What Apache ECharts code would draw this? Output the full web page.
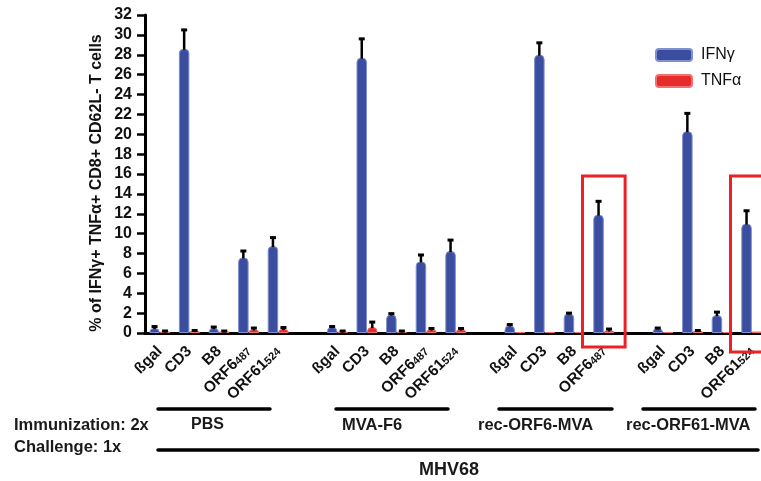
<!DOCTYPE html>
<html>
<head>
<meta charset="utf-8">
<script src="https://cdn.jsdelivr.net/npm/echarts@6/dist/echarts.min.js"></script>
<style>
html,body{margin:0;padding:0;background:#fff;}
#chart{width:761px;height:481px;}
</style>
</head>
<body>
<div id="chart"></div>
<script>
// ---- data ----
const categories = ['PBS-ßgal','PBS-CD3','PBS-B8','PBS-ORF6','PBS-ORF61','gap1',
  'MVA-ßgal','MVA-CD3','MVA-B8','MVA-ORF6','MVA-ORF61','gap2',
  'r6-ßgal','r6-CD3','r6-B8','r6-ORF6','gap3',
  'r61-ßgal','r61-CD3','r61-B8','r61-ORF61'];
const tickLabels = ['ßgal','CD3','B8','{n|ORF6}{s|487}','{n|ORF61}{s|524}','',
  'ßgal','CD3','B8','{n|ORF6}{s|487}','{n|ORF61}{s|524}','',
  'ßgal','CD3','B8','{n|ORF6}{s|487}','',
  'ßgal','CD3','B8','{n|ORF61}{s|524}'];
const ifnValues = [0.5, 28.6, 0.5, 7.6, 8.75, null, 0.6, 27.7, 1.85, 7.2, 8.25, null, 0.75, 28.0, 1.95, 11.9, null, 0.45, 20.3, 1.8, 11.0];
const ifnErrors = [0.15, 1.9, 0.1, 0.65, 0.85, null, 0.05, 1.9, 0.1, 0.65, 1.1, null, 0.1, 1.2, 0.05, 1.35, null, 0.05, 1.8, 0.3, 1.3];
const tnfValues = [0.15, 0.2, 0.15, 0.35, 0.4, null, 0.15, 0.6, 0.15, 0.35, 0.35, null, 0.1, 0.1, 0.1, 0.25, null, 0.1, 0.2, 0.1, 0.15];
const tnfErrors = [0.05, 0.05, 0.05, 0.15, 0.15, null, 0.05, 0.5, 0.05, 0.1, 0.1, null, 0, 0, 0, 0.15, null, 0, 0.05, 0, 0];
const seriesNames = ['IFNγ', 'TNFα'];
const yTicks = {min: 0, max: 32, interval: 2};
const yTitle = '% of IFNγ+ TNFα+ CD8+ CD62L- T cells';
const highlighted = [15, 20]; // categories framed in red

// ---- chart ----
const FONT = 'Arial, "Liberation Sans", Helvetica, sans-serif';
const BAR_W = 10.5;
const chart = echarts.init(document.getElementById('chart'), null, {renderer: 'canvas'});

function errData(vals, errs, side) {
  const out = [];
  vals.forEach((v, i) => { if (v != null && errs[i]) out.push([i, v, errs[i], side]); });
  return out;
}
function renderErr(params, api) {
  const idx = api.value(0), v = api.value(1), e = api.value(2), side = api.value(3);
  const b = api.coord([idx, v]);
  const t = api.coord([idx, v + e]);
  const x = b[0] + side * BAR_W / 2;
  const st = {stroke: '#000', lineWidth: 2.5};
  return {type: 'group', children: [
    {type: 'line', shape: {x1: x, y1: b[1] + 1, x2: x, y2: t[1]}, style: st},
    {type: 'line', shape: {x1: x - 3, y1: t[1], x2: x + 3, y2: t[1]}, style: {stroke: '#000', lineWidth: 3}}
  ]};
}

const blue = '#3a4d9f', red = '#e62b2b';
const option = {
  animation: false,
  grid: {left: 145, top: 15, width: 29.6 * 21, height: 318, containLabel: false, outerBoundsMode: 'none'},
  legend: {
    orient: 'vertical', left: 650, top: 42, itemWidth: 36, itemHeight: 12, itemGap: 10,
    icon: 'roundRect',
    textStyle: {fontFamily: FONT, fontSize: 16, color: '#111', padding: [0, 0, 0, 4]},
    data: seriesNames
  },
  xAxis: {
    type: 'category', data: categories, boundaryGap: true,
    axisLine: {lineStyle: {color: '#000', width: 3}},
    axisTick: {alignWithLabel: true, length: 9, lineStyle: {color: '#000', width: 2.5}, interval: 0},
    axisLabel: {
      interval: 0, rotate: 45, margin: 16,
      formatter: (v, i) => tickLabels[i],
      fontFamily: FONT, fontWeight: 'bold', fontSize: 15.5, color: '#111',
      rich: {
        n: {fontFamily: FONT, fontWeight: 'bold', fontSize: 15.5, color: '#111'},
        s: {fontFamily: FONT, fontWeight: 'bold', fontSize: 11, color: '#111', padding: [0, 0, -3, 0]}
      }
    }
  },
  yAxis: {
    type: 'value', min: yTicks.min, max: yTicks.max, interval: yTicks.interval,
    splitLine: {show: false},
    axisLine: {show: true, lineStyle: {color: '#000', width: 3}},
    axisTick: {show: true, length: 8, lineStyle: {color: '#000', width: 2.5}},
    axisLabel: {margin: 13, fontFamily: FONT, fontWeight: 'bold', fontSize: 16, color: '#111'}
  },
  series: [
    {name: seriesNames[0], type: 'bar', data: ifnValues, barWidth: BAR_W, barGap: '0%',
     itemStyle: {color: blue, borderColor: '#7f8fcf', borderWidth: 1, borderRadius: [4, 4, 0, 0]}},
    {name: seriesNames[1], type: 'bar', data: tnfValues, barWidth: BAR_W, barGap: '0%',
     itemStyle: {color: red, borderColor: '#f27070', borderWidth: 1, borderRadius: [4, 4, 0, 0]}},
    {type: 'custom', renderItem: renderErr, data: errData(ifnValues, ifnErrors, -1), z: 5, silent: true},
    {type: 'custom', renderItem: renderErr, data: errData(tnfValues, tnfErrors, 1), z: 5, silent: true}
  ]
};
chart.setOption(option);

// annotations
const band = 29.6;
const boxes = highlighted.map((ci, k) => {
  const cx = chart.convertToPixel({xAxisIndex: 0}, ci);
  const top = chart.convertToPixel({yAxisIndex: 0}, 15.8);
  const bottom = k === 0 ? 347 : 352;
  return {type: 'rect', shape: {x: cx - 0.72 * band, y: top, width: 1.44 * band, height: bottom - top},
    style: {fill: 'none', stroke: '#ee2027', lineWidth: 3}, z: 10};
});
const ln = (x1, y1, x2, y2) => ({type: 'line', shape: {x1, y1, x2, y2}, style: {stroke: '#000', lineWidth: 3.5, lineCap: 'round'}});
const tx = (x, y, text, size, weight) => ({type: 'text', x, y, style: {text, fontFamily: FONT, fontSize: size, fontWeight: weight || 'bold', fill: '#1a1a1a', textVerticalAlign: 'middle'}});
chart.setOption({graphic: [
  ...boxes,
  {type: 'text', x: 97, y: 183, rotation: Math.PI / 2,
   style: {text: yTitle, fontFamily: FONT, fontSize: 16, fontWeight: 'bold', fill: '#111', textAlign: 'center', textVerticalAlign: 'middle'}},
  ln(158, 409, 270, 409), ln(336, 409, 448, 409), ln(499, 409, 612, 409), ln(643, 409, 755, 409),
  ln(158, 450, 758, 450),
  tx(14, 425, 'Immunization: 2x', 16.5), tx(191, 425, 'PBS', 16), tx(342, 425, 'MVA-F6', 16.5),
  tx(478, 425, 'rec-ORF6-MVA', 16.5), tx(626, 425, 'rec-ORF61-MVA', 16.5),
  tx(14, 447, 'Challenge: 1x', 16.5), tx(419, 470, 'MHV68', 18)
]});
</script>
</body>
</html>
